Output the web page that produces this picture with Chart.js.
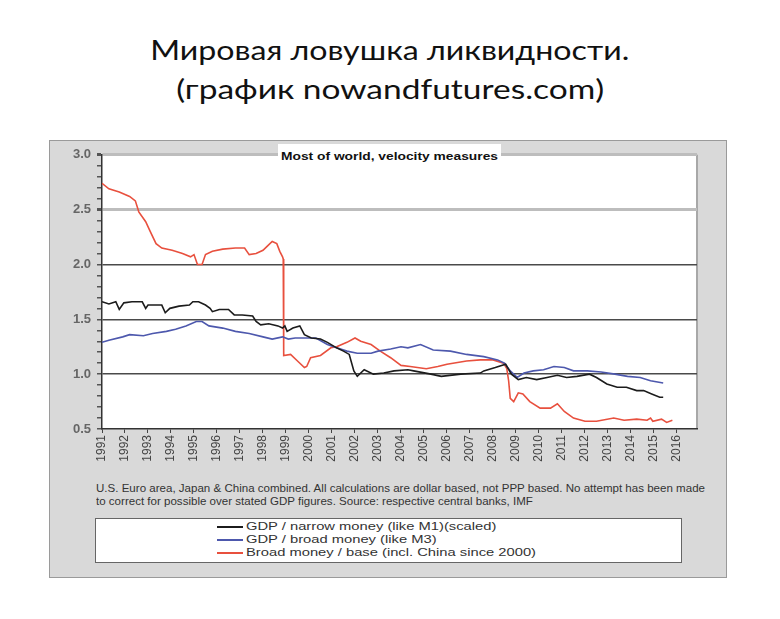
<!DOCTYPE html>
<html lang="ru">
<head>
  <meta charset="UTF-8">
  <title>Мировая ловушка ликвидности</title>
  <script src="https://cdn.jsdelivr.net/npm/chart.js"></script>
  <style>
    body { margin: 0; background: #fff; width: 780px; height: 619px; position: relative; overflow: hidden; }
    .head {
      position: absolute; left: 0; width: 780px; text-align: center;
      font-family: Lato, "Open Sans", sans-serif; font-size: 26px; line-height: 26px; color: #111;
    }
    .head span { display: inline-block; transform-origin: center; }
    #frame {
      position: absolute; left: 49px; top: 140px; width: 678px; height: 438px;
      background: #d9d9d9; border: 1px solid #9a9a9a; box-sizing: border-box;
    }
    #chartBox { position: absolute; left: 0; top: 0; width: 676px; height: 340px; }
    #plotTitle {
      position: absolute; left: 228px; top: 3px; width: 223px; height: 20px; background: #fff;
      font: bold 11px Arial, "Liberation Sans", sans-serif; color: #111; padding: 6px 0 0 3px; box-sizing: border-box;
    }
    #plotTitle span, #note span, #legend span { display: inline-block; transform-origin: left center; white-space: pre; }
    #note {
      position: absolute; left: 46px; top: 341px;
      font: 10.5px Arial, "Liberation Sans", sans-serif; line-height: 13px; color: #333;
    }
    #legend {
      position: absolute; left: 45px; top: 377px; width: 587px; height: 45px;
      background: #fff; border: 1px solid #666; box-sizing: border-box; padding: 1px 0 0 121px;
      font: 10.5px Arial, "Liberation Sans", sans-serif; color: #333; line-height: 13px;
    }
    #legend div { white-space: pre; }
    #legend i { display: inline-block; width: 26px; height: 0; border-top: 2px solid; vertical-align: middle; margin-right: 3px; }
  </style>
</head>
<body>
  <div class="head" style="top:37px"><span id="h1">Мировая ловушка ликвидности.</span></div>
  <div class="head" style="top:76px"><span id="h2">(график nowandfutures.com)</span></div>

  <div id="frame">
    <div id="chartBox"><canvas id="velocityChart"></canvas></div>
    <div id="plotTitle"><span id="pt">Most of world, velocity measures</span></div>
    <div id="note"><span id="n1">U.S. Euro area, Japan &amp; China combined. All calculations are dollar based, not PPP based. No attempt has been made</span><br><span id="n2">to correct for possible over stated GDP figures. Source: respective central banks, IMF</span></div>
    <div id="legend"></div>
  </div>

  <script>
    // GDP / narrow money (like M1)(scaled)
    const narrowYears = [1991.0, 1991.3, 1991.6, 1991.75, 1991.95, 1992.3, 1992.75, 1992.9, 1993.0, 1993.6, 1993.75, 1993.95,
      1994.35, 1994.8, 1994.95, 1995.2, 1995.5, 1995.7, 1995.8, 1996.1, 1996.5, 1996.75, 1997.1, 1997.55, 1997.7, 1997.9,
      1998.25, 1998.65, 1998.85, 1998.95, 1999.05, 1999.3, 1999.6, 1999.8, 2000.1, 2000.5, 2000.8, 2001.2, 2001.5, 2001.75,
      2001.95, 2002.1, 2002.4, 2002.8, 2003.25, 2003.7, 2004.3, 2004.55, 2005.3, 2005.75, 2006.6, 2007.45, 2007.6, 2008.1,
      2008.55, 2008.8, 2009.1, 2009.45, 2009.9, 2010.35, 2010.8, 2011.2, 2011.65, 2012.2, 2012.5, 2012.95, 2013.4, 2013.8,
      2014.25, 2014.55, 2014.9, 2015.25, 2015.4];
    const narrowValues = [1.66, 1.64, 1.66, 1.59, 1.65, 1.66, 1.66, 1.60, 1.63, 1.63, 1.56, 1.60,
      1.62, 1.63, 1.66, 1.66, 1.63, 1.60, 1.57, 1.59, 1.59, 1.54, 1.54, 1.53, 1.48, 1.45,
      1.46, 1.44, 1.42, 1.44, 1.39, 1.42, 1.44, 1.36, 1.33, 1.32, 1.29, 1.24, 1.21, 1.18,
      1.03, 0.98, 1.04, 1.00, 1.01, 1.03, 1.04, 1.03, 1.00, 0.98, 1.00, 1.01, 1.03, 1.06,
      1.09, 1.00, 0.95, 0.97, 0.95, 0.97, 0.99, 0.97, 0.98, 1.00, 0.97, 0.91, 0.88, 0.88,
      0.85, 0.85, 0.82, 0.79, 0.79];

    // GDP / broad money (like M3)
    const broadYears = [1991.0, 1991.3, 1991.9, 1992.2, 1992.8, 1993.2, 1993.8, 1994.2, 1994.65, 1995.1, 1995.35, 1995.65,
      1996.25, 1996.8, 1997.4, 1998.0, 1998.4, 1998.85, 1999.1, 1999.4, 1999.8, 2000.3, 2000.8, 2001.2, 2001.65, 2002.1,
      2002.7, 2003.0, 2003.55, 2004.0, 2004.3, 2004.85, 2005.4, 2006.15, 2006.85, 2007.6, 2008.2, 2008.5, 2008.75, 2009.05,
      2009.35, 2009.75, 2010.2, 2010.65, 2011.1, 2011.5, 2012.1, 2012.7, 2013.3, 2013.85, 2014.4, 2014.85, 2015.4];
    const broadValues = [1.29, 1.31, 1.34, 1.36, 1.35, 1.37, 1.39, 1.41, 1.44, 1.48, 1.48, 1.44,
      1.42, 1.39, 1.37, 1.34, 1.32, 1.34, 1.32, 1.33, 1.33, 1.33, 1.27, 1.24, 1.21, 1.19,
      1.19, 1.21, 1.23, 1.25, 1.24, 1.27, 1.22, 1.21, 1.18, 1.16, 1.13, 1.10, 1.03, 0.97,
      1.01, 1.03, 1.04, 1.07, 1.06, 1.03, 1.03, 1.02, 1.00, 0.98, 0.97, 0.94, 0.92];

    // Broad money / base (incl. China since 2000)
    const baseYears = [1991.0, 1991.3, 1991.75, 1992.2, 1992.45, 1992.6, 1992.9, 1993.1, 1993.35, 1993.6, 1994.05, 1994.5,
      1994.85, 1995.0, 1995.15, 1995.35, 1995.5, 1995.8, 1996.25, 1996.8, 1997.2, 1997.4, 1997.7, 1998.0, 1998.2, 1998.4,
      1998.6, 1998.73, 1998.85, 1998.88, 1998.9, 1999.2, 1999.5, 1999.8, 1999.9, 2000.07, 2000.5, 2000.95, 2001.2, 2001.65,
      2002.0, 2002.25, 2002.7, 2003.1, 2003.55, 2004.0, 2004.4, 2005.1, 2005.6, 2006.0, 2006.85, 2007.45, 2008.0, 2008.46,
      2008.6, 2008.68, 2008.75, 2008.9, 2009.1, 2009.3, 2009.6, 2010.05, 2010.5, 2010.8, 2011.1, 2011.5, 2012.0, 2012.5,
      2013.25, 2013.7, 2014.25, 2014.7, 2014.85, 2014.95, 2015.33, 2015.55, 2015.8];
    const baseValues = [2.74, 2.69, 2.66, 2.62, 2.58, 2.48, 2.39, 2.30, 2.19, 2.15, 2.13, 2.10,
      2.07, 2.09, 2.00, 2.00, 2.09, 2.12, 2.14, 2.15, 2.15, 2.09, 2.10, 2.13, 2.17, 2.21,
      2.19, 2.12, 2.07, 2.05, 1.17, 1.18, 1.12, 1.06, 1.07, 1.15, 1.17, 1.24, 1.25, 1.29,
      1.33, 1.30, 1.27, 1.21, 1.15, 1.08, 1.07, 1.05, 1.07, 1.09, 1.12, 1.13, 1.13, 1.10,
      1.05, 0.94, 0.78, 0.75, 0.83, 0.82, 0.75, 0.69, 0.69, 0.73, 0.66, 0.60, 0.57, 0.57,
      0.60, 0.58, 0.59, 0.58, 0.60, 0.57, 0.59, 0.56, 0.58];

    const seriesLabels = ['GDP / narrow money (like M1)(scaled)', 'GDP / broad money (like M3)', 'Broad money / base (incl. China since 2000)'];
    const seriesColors = ['#1c1c1c', '#4d58ad', '#e8503e'];

    const xMin = 1991, xMax = 2016.87;
    const yMin = 0.5, yMax = 3.0;

    function points(xs, ys) {
      return xs.map((x, i) => ({ x: x, y: ys[i] }));
    }

    // the source picture is stretched sideways, so text is widened to the width it has there
    function stretch(els, factor) {
      els.forEach(el => { el.style.transform = 'scaleX(' + factor + ')'; });
    }
    const widthOf = el => el.getBoundingClientRect().width;

    const legendEl = document.getElementById('legend');
    const legendSpans = [];
    seriesLabels.forEach((label, i) => {
      const row = document.createElement('div');
      row.innerHTML = '<i style="border-color:' + seriesColors[i] + '"></i>';
      const s = document.createElement('span');
      s.textContent = label;
      row.appendChild(s);
      legendEl.appendChild(row);
      legendSpans.push(s);
    });

    const h1 = document.getElementById('h1'), h2 = document.getElementById('h2');
    const pt = document.getElementById('pt');
    const n1 = document.getElementById('n1'), n2 = document.getElementById('n2');
    const noteScale = 609 / widthOf(n1);
    const legendScale = 290 / widthOf(legendSpans[2]);
    stretch([h1], 479 / widthOf(h1));
    stretch([h2], 428 / widthOf(h2));
    stretch([pt], 217 / widthOf(pt));
    stretch([n1, n2], noteScale);
    stretch(legendSpans, legendScale);

    const plotBack = {
      id: 'plotBack',
      beforeDraw(chart) {
        const a = chart.chartArea, c = chart.ctx;
        c.save();
        c.fillStyle = '#fff';
        c.fillRect(a.left, a.top, a.right - a.left, a.bottom - a.top);
        c.strokeStyle = '#a8a8a8';
        c.lineWidth = 2;
        c.beginPath();
        c.moveTo(a.right, a.top);
        c.lineTo(a.right, a.bottom);
        c.stroke();
        c.restore();
      }
    };

    const isMajor = v => Math.abs(v * 2 - Math.round(v * 2)) < 1e-6;

    new Chart(document.getElementById('velocityChart'), {
      type: 'line',
      data: {
        datasets: [
          { label: seriesLabels[0], data: points(narrowYears, narrowValues), borderColor: seriesColors[0] },
          { label: seriesLabels[1], data: points(broadYears, broadValues), borderColor: seriesColors[1] },
          { label: seriesLabels[2], data: points(baseYears, baseValues), borderColor: seriesColors[2] }
        ]
      },
      options: {
        responsive: true,
        maintainAspectRatio: false,
        animation: false,
        layout: { padding: { top: 13, right: 29, left: 0, bottom: 0 } },
        elements: {
          point: { radius: 0 },
          line: { borderWidth: 1.6, tension: 0 }
        },
        plugins: {
          legend: { display: false },
          title: { display: false },
          tooltip: { enabled: false }
        },
        scales: {
          x: {
            type: 'linear',
            min: xMin,
            max: xMax,
            afterFit(scale) { scale.height = 52; },
            border: { color: '#333', width: 1.5 },
            grid: { drawOnChartArea: false, tickColor: '#444', tickLength: 4 },
            ticks: {
              stepSize: 1,
              includeBounds: false,
              autoSkip: false,
              minRotation: 90,
              maxRotation: 90,
              padding: 2,
              color: '#444',
              font: { family: 'Arial, "Liberation Sans", sans-serif', size: 12 },
              callback: v => String(v)
            }
          },
          y: {
            min: yMin,
            max: yMax,
            afterFit(scale) { scale.width = 52; },
            border: { color: '#333', width: 1.5 },
            grid: {
              color: ctx => {
                const v = ctx.tick.value;
                if (Math.abs(v - 2.5) < 1e-6 || Math.abs(v - 3.0) < 1e-6) return '#bdbdbd';
                if (isMajor(v) && v > 0.75) return '#4a4a4a';
                return 'rgba(0,0,0,0)';
              },
              lineWidth: ctx => {
                const v = ctx.tick.value;
                if (Math.abs(v - 2.5) < 1e-6 || Math.abs(v - 3.0) < 1e-6) return 3;
                return 1.5;
              },
              tickColor: '#555',
              tickLength: 5
            },
            ticks: {
              stepSize: 0.1,
              autoSkip: false,
              padding: 6,
              color: '#666',
              font: { family: 'Arial, "Liberation Sans", sans-serif', size: 13, weight: 'bold' },
              callback: v => isMajor(v) ? v.toFixed(1) : ''
            }
          }
        }
      },
      plugins: [plotBack]
    });
  </script>
</body>
</html>
